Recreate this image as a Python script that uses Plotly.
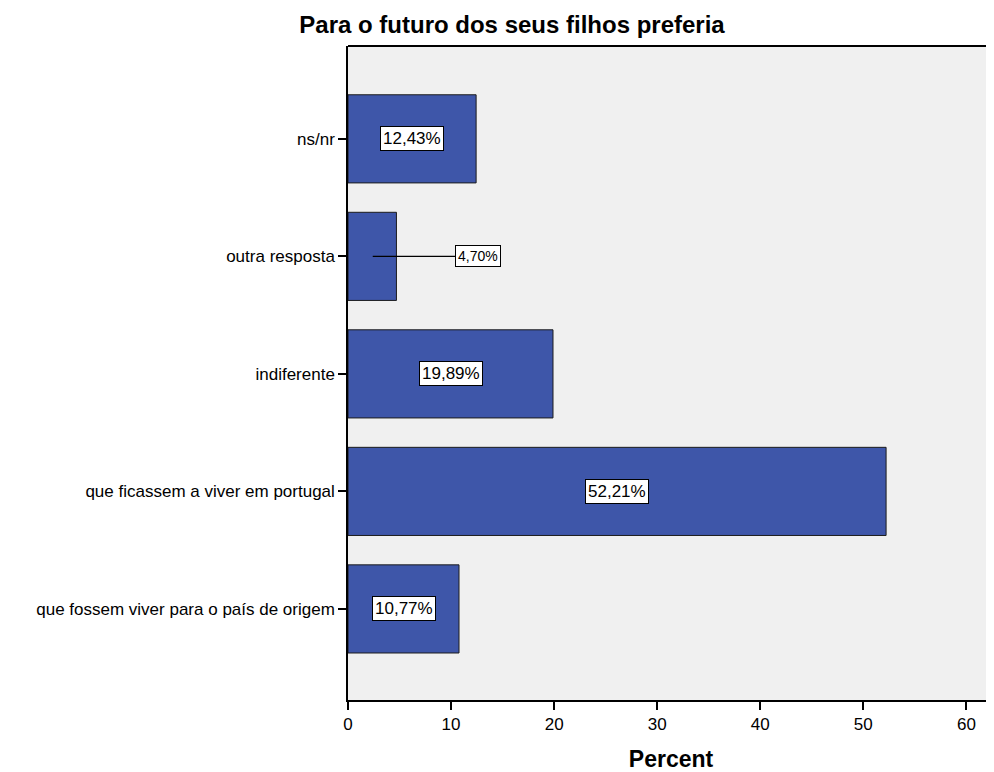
import plotly.graph_objects as go

categories = [
    "que fossem viver para o país de origem",
    "que ficassem a viver em portugal",
    "indiferente",
    "outra resposta",
    "ns/nr",
]
percent = [10.77, 52.21, 19.89, 4.70, 12.43]
x_ticks = [0, 10, 20, 30, 40, 50, 60]

positions = list(range(len(categories)))

# page has an 8px body margin; compensate so the plot sits where the reference has it
W, H = 986, 764

fig = go.Figure()
fig.add_trace(go.Bar(
    x=percent,
    y=positions,
    orientation="h",
    width=0.75,
    marker=dict(color="#3E56A9", line=dict(color="#1c1c1c", width=1)),
    hoverinfo="skip",
))

annotations = []
for pos, val in zip(positions, percent):
    label = f"{val:.2f}%".replace(".", ",")
    if val < 8:
        annotations.append(dict(
            x=val / 2 + 0.05, y=pos, xref="x", yref="y",
            ax=12.6, ay=pos, axref="x", ayref="y",
            text=label, showarrow=True, arrowhead=0, arrowwidth=1.2,
            arrowcolor="black", standoff=0,
            font=dict(family="Liberation Sans, Arial", size=14, color="black"),
            bgcolor="white", bordercolor="black", borderwidth=1, borderpad=2,
        ))
    else:
        annotations.append(dict(
            x=val / 2, y=pos, xref="x", yref="y",
            text=label, showarrow=False,
            font=dict(family="Liberation Sans, Arial", size=17, color="black"),
            bgcolor="white", bordercolor="black", borderwidth=1, borderpad=2,
        ))

fig.update_layout(
    width=W, height=H,
    paper_bgcolor="white",
    plot_bgcolor="#F0F0F0",
    margin=dict(l=340, r=0, t=38, b=72, autoexpand=False),
    showlegend=False,
    title=dict(
        text="<b>Para o futuro dos seus filhos preferia</b>",
        x=504 / W, xref="container", xanchor="center",
        y=1 - 17 / H, yref="container", yanchor="middle",
        font=dict(family="Liberation Sans, Arial", size=24, color="black"),
    ),
    annotations=annotations,
    font=dict(family="Liberation Sans, Arial", size=16, color="black"),
)
fig.update_xaxes(
    range=[0, 62.68],
    tickvals=x_ticks,
    ticktext=[str(t) for t in x_ticks],
    ticks="outside", ticklen=8, tickcolor="black", tickwidth=1.5,
    showline=True, linecolor="black", linewidth=1.5, mirror=False,
    showgrid=False, zeroline=False,
    tickfont=dict(size=17),
    title=dict(text="<b>Percent</b>", font=dict(size=23), standoff=19),
)
fig.update_yaxes(
    range=[-0.775, 4.79],
    tickvals=positions,
    ticktext=categories,
    ticks="outside", ticklen=8, tickcolor="black", tickwidth=1.5,
    showline=True, linecolor="black", linewidth=1.5,
    showgrid=False, zeroline=False,
    tickfont=dict(size=17),
)
fig.add_shape(type="line", xref="paper", yref="paper", x0=0, x1=1, y0=1, y1=1,
              line=dict(color="black", width=2))

fig.write_html("out.html")
